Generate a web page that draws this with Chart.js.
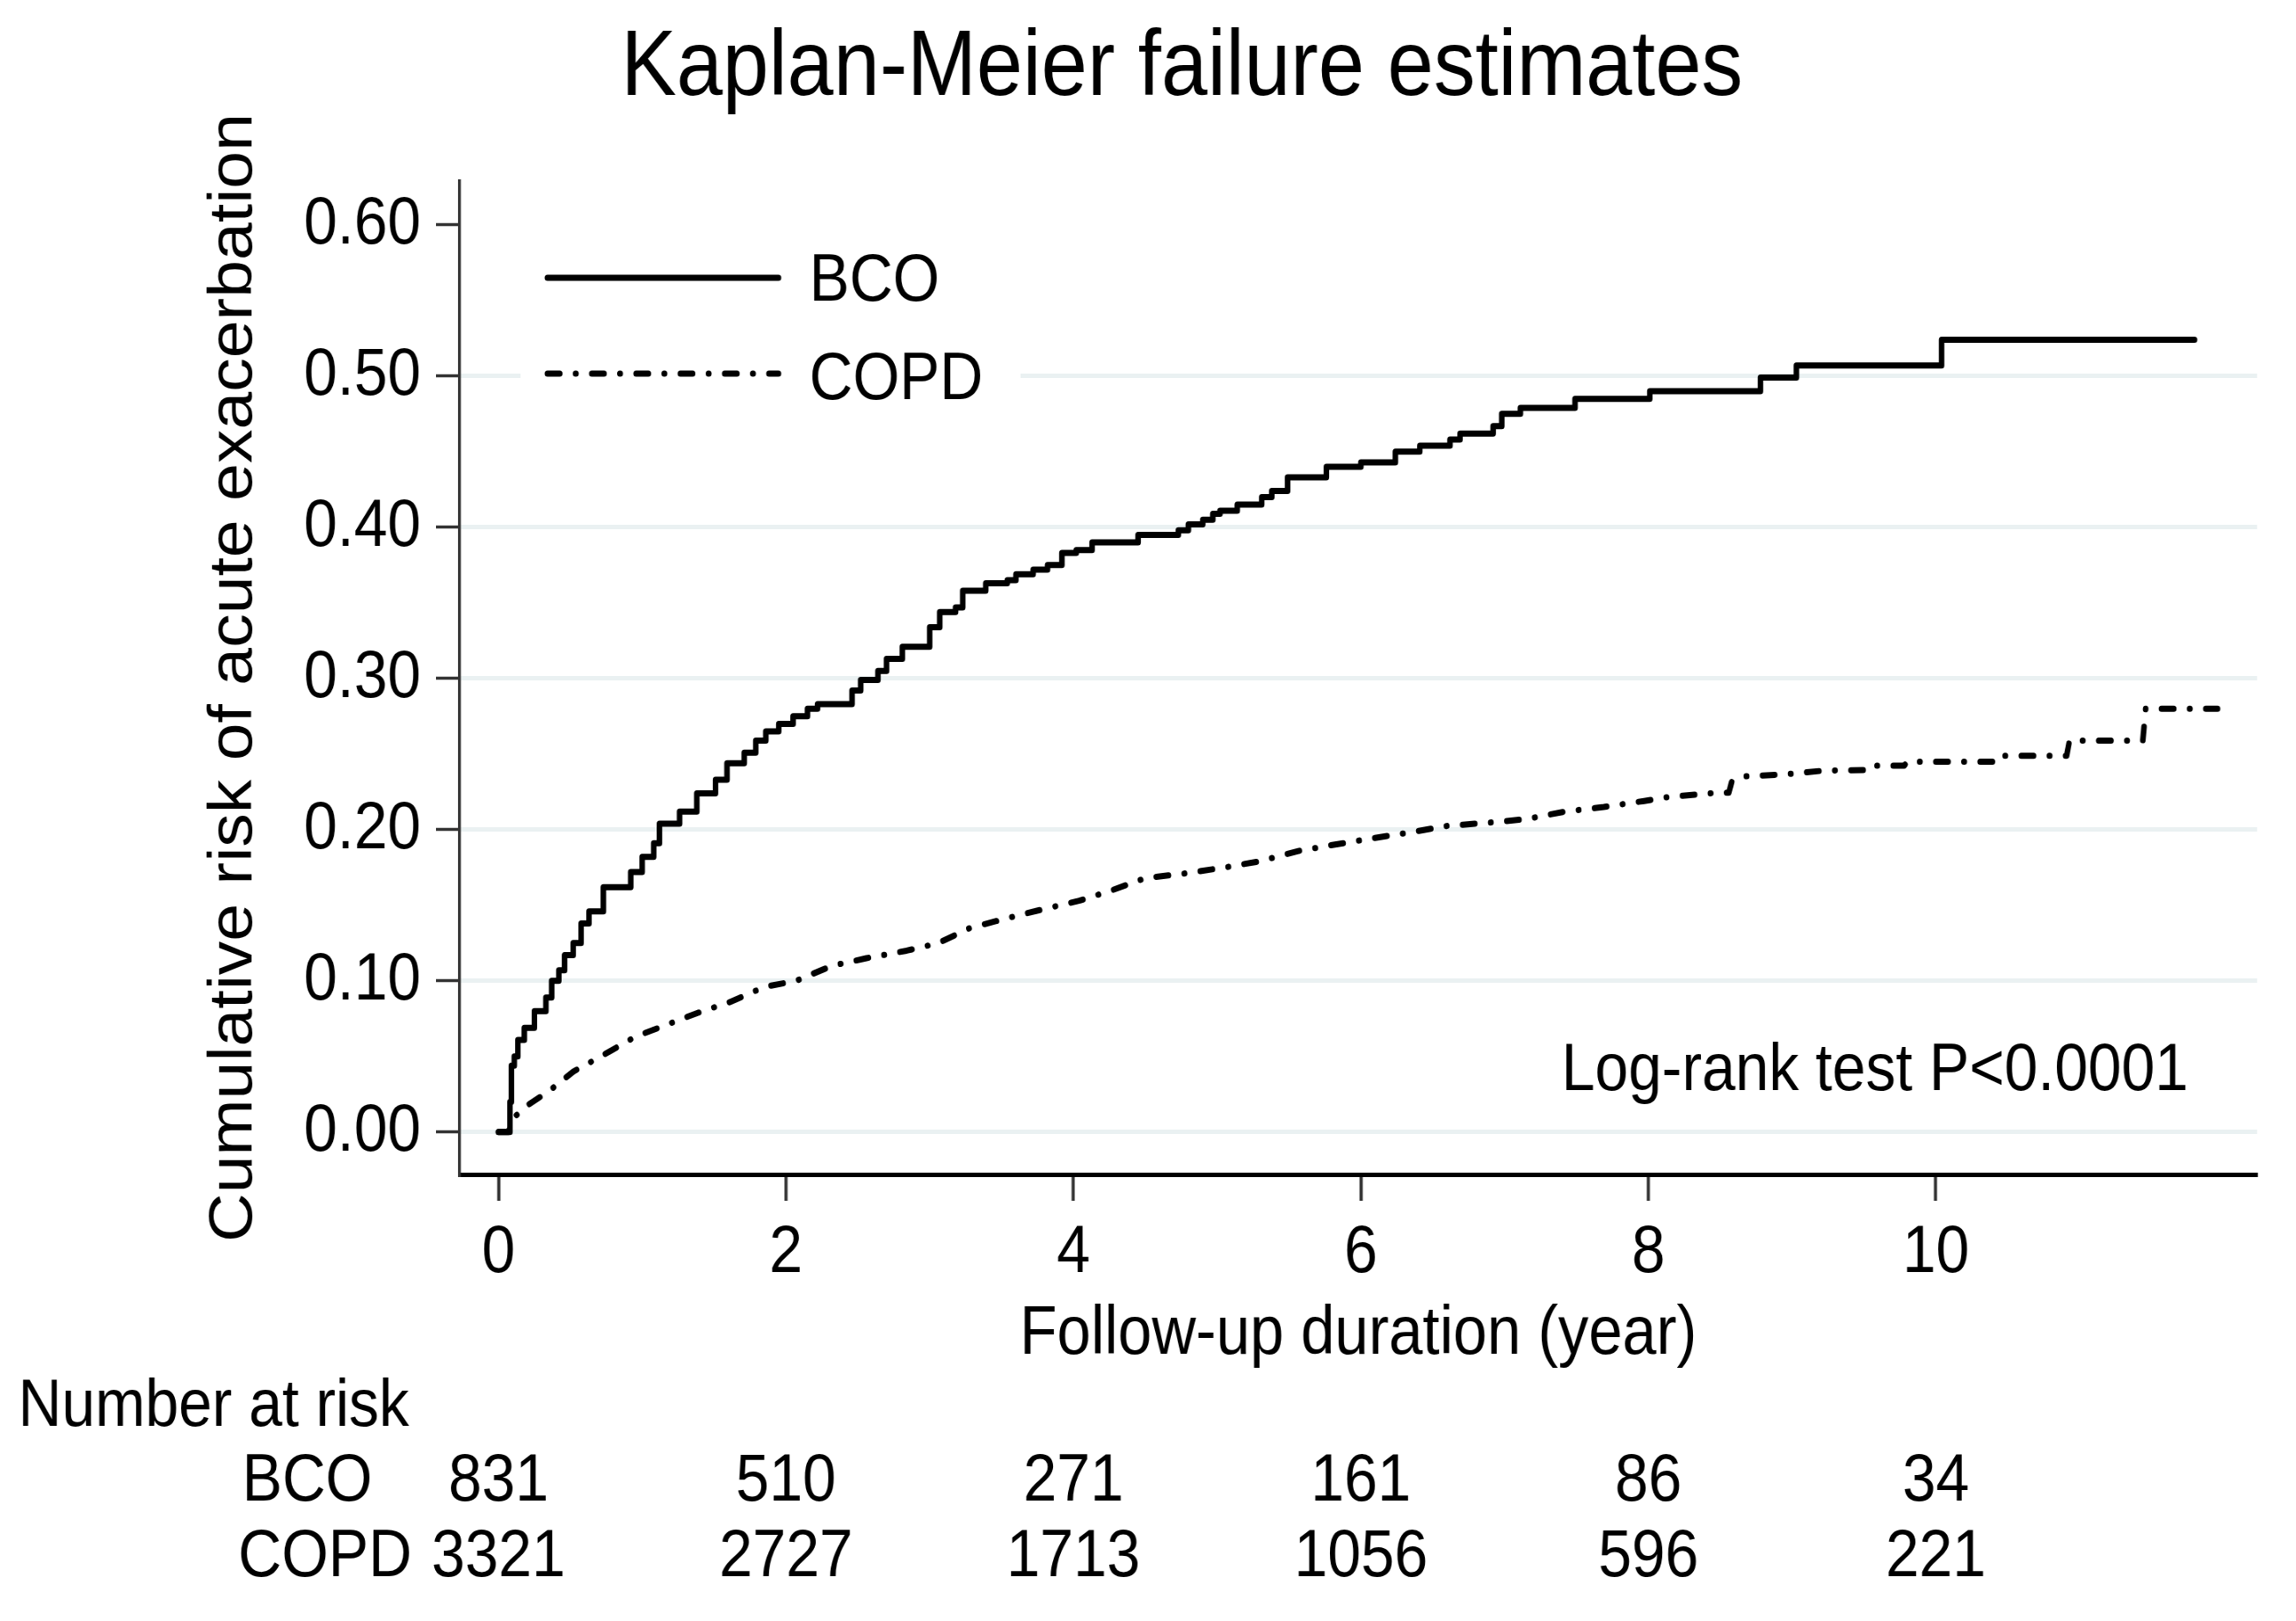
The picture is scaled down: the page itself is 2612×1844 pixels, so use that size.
<!DOCTYPE html>
<html>
<head>
<meta charset="utf-8">
<script src="https://cdn.jsdelivr.net/npm/chart.js@4.4.1/dist/chart.umd.min.js"></script>
<style>
  html, body { margin: 0; padding: 0; background: #ffffff; overflow: hidden; width: 2612px; height: 1844px; }
  #wrap { width: 2612px; height: 1844px; overflow: hidden; }
  #c { display: block; transform: scaleX(0.9); transform-origin: 0 0; }
</style>
</head>
<body>
<div id="wrap"><canvas id="c" width="2902" height="1844"></canvas></div>
<script>
const FONT = "'Liberation Sans', Arial, Helvetica, sans-serif";

const chartTitle = 'Kaplan-Meier failure estimates';
const xAxisTitle = 'Follow-up duration (year)';
const yAxisTitle = 'Cumulative risk of acute exacerbation';
const seriesNames = ['BCO', 'COPD'];
const annotationText = 'Log-rank test P<0.0001';
const riskTableTitle = 'Number at risk';

// BCO: Kaplan-Meier failure steps (time in years, cumulative risk after the step)
const bcoTime = [0, 0.07, 0.08, 0.09, 0.11, 0.135, 0.18, 0.25, 0.33, 0.37, 0.42, 0.46, 0.52, 0.575, 0.63, 0.73,
  0.92, 1.0, 1.08, 1.12, 1.26, 1.38, 1.51, 1.59, 1.71, 1.79, 1.86, 1.95, 2.05, 2.15, 2.22, 2.46, 2.52, 2.64,
  2.70, 2.81, 3.0, 3.07, 3.18, 3.23, 3.39, 3.54, 3.60, 3.72, 3.82, 3.92, 4.02, 4.13, 4.45, 4.73, 4.80, 4.90,
  4.97, 5.02, 5.14, 5.31, 5.38, 5.49, 5.76, 6.0, 6.24, 6.41, 6.62, 6.69, 6.92, 6.98, 7.11, 7.49, 8.01, 8.78,
  9.03, 10.04, 11.8];
const bcoRisk = [0, 0, 0.02, 0.044, 0.05, 0.061, 0.069, 0.08, 0.089, 0.1, 0.107, 0.117, 0.125, 0.138, 0.146, 0.162,
  0.172, 0.182, 0.191, 0.204, 0.212, 0.224, 0.233, 0.244, 0.251, 0.259, 0.265, 0.27, 0.275, 0.28, 0.283, 0.292, 0.299, 0.305,
  0.313, 0.321, 0.334, 0.344, 0.347, 0.358, 0.363, 0.365, 0.369, 0.372, 0.375, 0.383, 0.385, 0.39, 0.395, 0.398, 0.402, 0.405,
  0.409, 0.411, 0.415, 0.42, 0.424, 0.433, 0.44, 0.443, 0.45, 0.454, 0.458, 0.462, 0.467, 0.475, 0.479, 0.485, 0.49, 0.499,
  0.507, 0.524, 0.524];

// COPD (dense small steps early, visible jumps late)
const copdTime = [0, 0.07, 0.09, 0.19, 0.35, 0.52, 0.73, 0.95, 1.17, 1.39, 1.61, 1.85, 2.07, 2.32, 2.56, 2.84, 3.06,
  3.28, 3.52, 3.77, 4.04, 4.27, 4.50, 4.77, 5.05, 5.29, 5.57, 5.81, 6.06, 6.33, 6.6, 6.87, 7.15, 7.42, 7.69, 7.97,
  8.13, 8.48, 8.56, 8.58, 8.65, 8.95, 9.22, 9.50, 9.52, 9.78, 9.80, 10.42, 10.44, 10.91, 10.93, 11.44, 11.46, 11.96];
const copdRisk = [0, 0, 0.008, 0.017, 0.027, 0.04, 0.051, 0.063, 0.071, 0.079, 0.086, 0.096, 0.1, 0.11, 0.115, 0.12, 0.125,
  0.135, 0.141, 0.147, 0.153, 0.16, 0.168, 0.171, 0.175, 0.179, 0.186, 0.19, 0.194, 0.198, 0.2025, 0.2045, 0.207, 0.212, 0.215, 0.219,
  0.2215, 0.2245, 0.2245, 0.2317, 0.2352, 0.2366, 0.2391, 0.2395, 0.2424, 0.2424, 0.245, 0.245, 0.2489, 0.2489, 0.259, 0.259, 0.28, 0.28];

const xTickValues = [0, 2, 4, 6, 8, 10];
const yTickValues = [0, 0.1, 0.2, 0.3, 0.4, 0.5, 0.6];

const riskTimes = [0, 2, 4, 6, 8, 10];
const bcoAtRisk = [831, 510, 271, 161, 86, 34];
const copdAtRisk = [3321, 2727, 1713, 1056, 596, 221];

const COPD_DASH = [15.5, 20, 0.5, 20];

const toPoints = (ts, vs) => ts.map((t, i) => ({ x: t, y: vs[i] }));

const extrasPlugin = {
  id: 'kmExtras',
  afterDraw(chart) {
    const { ctx, chartArea, scales } = chart;
    const x = scales.x;
    ctx.save();
    // legend (inside plot region, top-left)
    const lx = chartArea.left;
    ctx.fillStyle = '#ffffff';
    ctx.fillRect(lx + 77, 262, 632, 218);
    ctx.strokeStyle = '#000000';
    ctx.lineWidth = 7;
    ctx.lineCap = 'round';
    ctx.setLineDash([]);
    ctx.beginPath(); ctx.moveTo(lx + 111, 316); ctx.lineTo(lx + 403, 316); ctx.stroke();
    ctx.setLineDash(COPD_DASH);
    ctx.beginPath(); ctx.moveTo(lx + 111, 425); ctx.lineTo(lx + 403, 425); ctx.stroke();
    ctx.setLineDash([]);
    ctx.fillStyle = '#000000';
    ctx.font = '76px ' + FONT;
    ctx.textBaseline = 'alphabetic';
    ctx.textAlign = 'left';
    ctx.fillText(seriesNames[0], lx + 442, 342);
    ctx.fillText(seriesNames[1], lx + 442, 454);

    // log-rank annotation
    ctx.textAlign = 'right';
    ctx.fillText(annotationText, 2766, 1240);

    // number at risk table
    ctx.textAlign = 'left';
    ctx.fillText(riskTableTitle, 23, 1622);
    ctx.fillText(seriesNames[0], 306, 1707);
    ctx.fillText(seriesNames[1], 301, 1793);
    ctx.textAlign = 'center';
    riskTimes.forEach((t, i) => {
      const px = x.getPixelForValue(t);
      ctx.fillText(String(bcoAtRisk[i]), px, 1707);
      ctx.fillText(String(copdAtRisk[i]), px, 1793);
    });
    ctx.restore();
  }
};

new Chart(document.getElementById('c').getContext('2d'), {
  type: 'line',
  data: {
    datasets: [
      {
        label: seriesNames[0],
        data: toPoints(bcoTime, bcoRisk),
        stepped: 'before',
        borderColor: '#000000',
        borderWidth: 7,
        borderCapStyle: 'round',
        borderJoinStyle: 'round',
        pointRadius: 0,
        fill: false
      },
      {
        label: seriesNames[1],
        data: toPoints(copdTime, copdRisk),
        stepped: false,
        tension: 0,
        borderColor: '#000000',
        borderWidth: 7,
        borderDash: COPD_DASH,
        borderCapStyle: 'round',
        borderJoinStyle: 'round',
        pointRadius: 0,
        fill: false
      }
    ]
  },
  options: {
    responsive: false,
    animation: false,
    devicePixelRatio: 1,
    layout: { padding: { left: 135, right: 49, top: 0, bottom: 277 } },
    plugins: {
      legend: { display: false },
      tooltip: { enabled: false },
      title: {
        display: true,
        text: chartTitle,
        color: '#000000',
        font: { family: FONT, size: 105, weight: 'normal' },
        padding: { top: 16, bottom: 64 }
      }
    },
    scales: {
      x: {
        type: 'linear',
        min: -0.27,
        max: 12.235,
        afterBuildTicks: (s) => { s.ticks = xTickValues.map(v => ({ value: v })); },
        afterFit: (s) => { s.height = 231; },
        grid: { color: 'rgba(0,0,0,0)', drawOnChartArea: false, tickLength: 30, tickColor: '#333333', tickWidth: 4 },
        border: { display: true, color: '#000000', width: 5 },
        ticks: { color: '#000000', font: { family: FONT, size: 76 }, padding: 14, maxRotation: 0, autoSkip: false,
                 callback: (v) => String(v) },
        title: { display: true, text: xAxisTitle, color: '#000000', font: { family: FONT, size: 77 },
                 padding: { top: 0, bottom: 2 } }
      },
      y: {
        type: 'linear',
        min: -0.028,
        max: 0.629,
        afterBuildTicks: (s) => { s.ticks = yTickValues.map(v => ({ value: v })); },
        afterFit: (s) => { s.width = 446; },
        grid: {
          color: (c) => (c.tick && c.tick.value > 0.55) ? 'rgba(0,0,0,0)' : '#eaf1f2',
          lineWidth: 5,
          tickLength: 30,
          tickColor: '#333333',
          tickWidth: 3.5
        },
        border: { display: true, color: '#333333', width: 3.5 },
        ticks: { color: '#000000', font: { family: FONT, size: 76 }, padding: 19,
                 callback: (v) => Number(v).toFixed(2) },
        title: { display: true, text: yAxisTitle, color: '#000000', font: { family: FONT, size: 77 },
                 padding: { top: 116, bottom: 0 } }
      }
    }
  },
  plugins: [extrasPlugin]
});
</script>
</body>
</html>
